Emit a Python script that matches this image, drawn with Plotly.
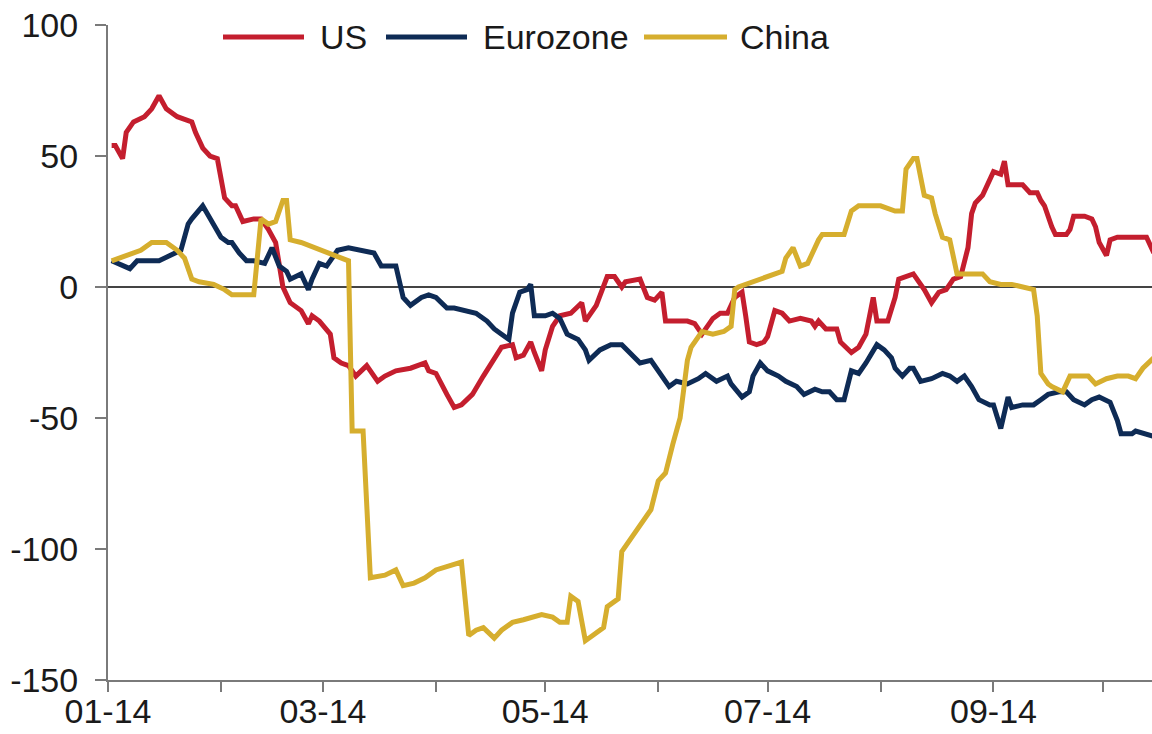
import pandas as pd
import plotly.graph_objects as go

# ---- data (day offset from 2014-01-01, index value) ----
us_day = [1,2,4,5,7,10,12,14,16,19,23,24,26,28,30,32,34,35,37,40,42,44,46,48,50,53,55,56,58,61,
          62,64,66,68,71,74,76,79,83,87,88,90,93,95,97,100,103,106,108,111,112,114,116,117,119,120,
          122,124,127,130,131,134,137,139,141,142,146,148,150,152,153,156,159,161,163,164,166,168,170,
          172,174,175,176,178,180,181,183,185,187,190,193,194,195,197,200,201,203,204,206,208,210,211,
          214,216,217,221,222,224,226,228,230,232,234,236,237,238,240,242,243,245,246,247,251,253,255,
          256,257,259,260,263,264,265,268,270,271,272,274,275,277,280,282,285,287]
us_val = [54,54,49,59,63,65,68,73,68,65,63,59,53,50,49,34,31,31,25,26,26,22,17,0,-6,-9,-14,-11,-13,-18,
          -27,-29,-30,-34,-30,-36,-34,-32,-31,-29,-32,-33,-41,-46,-45,-41,-34,-27,-23,-22,-27,-26,-21,-25,-32,-24,
          -15,-11,-10,-6,-13,-7,4,4,0,2,3,-4,-5,-2,-13,-13,-13,-14,-18,-16,-12,-10,-10,
          -4,-2,-11,-21,-22,-21,-19,-9,-10,-13,-12,-13,-15,-13,-16,-16,-21,-24,-25,-23,-18,-4,-13,
          -13,-4,3,5,3,-1,-6,-2,-1,3,4,15,28,32,35,41,44,43,48,39,39,36,36,
          33,31,23,20,20,22,27,27,26,23,17,12,18,19,19,19,19,13]

ez_day = [1,3,6,8,11,14,17,20,22,23,26,28,31,33,34,36,38,40,43,45,47,49,50,53,55,56,58,60,61,63,
          66,69,73,75,79,81,83,86,88,90,93,95,98,101,104,106,108,110,111,113,115,116,117,120,122,124,
          126,129,131,132,135,138,141,143,146,149,152,154,156,159,162,164,167,170,171,174,176,177,179,
          181,184,186,189,191,194,196,198,200,202,204,206,208,211,213,215,216,218,220,221,223,226,229,
          231,233,235,237,239,242,243,245,247,248,251,254,256,258,261,263,265,268,270,272,275,277,278,
          281,282,284,287]
ez_val = [10,9,7,10,10,10,12,14,24,26,31,26,19,17,17,13,10,10,9,15,8,6,3,5,-1,3,9,8,10,14,
          15,14,13,8,8,-4,-7,-4,-3,-4,-8,-8,-9,-10,-13,-16,-18,-20,-10,-2,-1,1,-11,-11,-10,-12,
          -18,-20,-24,-28,-24,-22,-22,-25,-29,-28,-34,-38,-36,-37,-35,-33,-36,-34,-37,-42,-40,-34,-29,
          -32,-34,-36,-38,-41,-39,-40,-40,-43,-43,-32,-33,-29,-22,-24,-27,-31,-34,-31,-31,-36,-35,-33,
          -34,-36,-34,-38,-43,-45,-45,-54,-42,-46,-45,-45,-43,-41,-40,-40,-43,-45,-43,-42,-44,-51,-56,
          -56,-55,-56,-57]

cn_day = [1,5,9,12,16,19,21,23,25,29,32,34,38,40,42,44,46,48,49,50,53,57,62,65,66,67,70,72,76,79,
          81,84,87,90,94,97,99,101,103,106,108,111,114,117,119,122,124,126,127,129,131,133,136,137,140,
          141,145,149,151,153,155,157,158,159,160,162,163,166,169,171,172,173,175,178,180,182,185,186,
          188,190,192,195,196,202,204,206,212,216,218,219,221,222,224,226,227,229,231,233,234,240,242,
          245,248,251,254,255,256,258,259,262,264,269,271,274,277,280,282,284,287]
cn_val = [10,12,14,17,17,14,11,3,2,1,-1,-3,-3,-3,26,24,25,33,33,18,17,15,12,11,10,-55,-55,-111,-110,-108,
          -114,-113,-111,-108,-106,-105,-133,-131,-130,-134,-131,-128,-127,-126,-125,-126,-128,-128,-118,-120,
          -135,-133,-130,-122,-119,-101,-93,-85,-74,-71,-60,-50,-39,-28,-23,-19,-17,-18,-17,-15,-1,0,1,2,3,4,
          6,11,15,8,9,18,20,20,29,31,31,29,29,45,49,49,35,34,28,19,18,5,5,5,2,1,1,0,-1,-11,-33,-37,-38,-40,
          -34,-34,-37,-35,-34,-34,-35,-31,-27]

series_names = ["US", "Eurozone", "China"]
series_colors = ["#C41E2E", "#0E2B55", "#D6AE2E"]

y_tickvals = [-150, -100, -50, 0, 50, 100]
y_ticktext = ["-150", "-100", "-50", "0", "50", "100"]

start = pd.Timestamp("2014-01-01")
end = start + pd.Timedelta(days=286.5)
def to_dates(days):
    return start + pd.to_timedelta(days, unit="D")

fig = go.Figure()
for name, color, d, v in zip(series_names, series_colors,
                             [us_day, ez_day, cn_day], [us_val, ez_val, cn_val]):
    fig.add_trace(go.Scatter(x=to_dates(d), y=v, mode="lines", name=name,
                             line=dict(color=color, width=5), showlegend=False))
# empty helper trace so the monthly tick-mark axis is drawn
fig.add_trace(go.Scatter(x=[], y=[], xaxis="x2", showlegend=False, hoverinfo="skip"))

W, H = 1152, 734
L, R, T, B = 108, 0, 25, 54
font = "Arial, Liberation Sans, sans-serif"
fs = 34
axis_grey = "#7a7a7a"

fig.update_layout(
    width=W, height=H,
    margin=dict(l=L, r=R, t=T, b=B, pad=0, autoexpand=False),
    paper_bgcolor="white", plot_bgcolor="white",
    font=dict(family=font, size=fs, color="#1a1a1a"),
    xaxis=dict(
        type="date", automargin=False, range=[start, end],
        tick0="2014-01-01", dtick="M2", tickformat="%m-%y",
        ticks="", showline=True, linecolor=axis_grey, linewidth=2,
        showgrid=False, zeroline=False, tickfont=dict(size=fs),
    ),
    xaxis2=dict(
        type="date", automargin=False, range=[start, end], matches="x",
        overlaying="x", anchor="y", side="bottom",
        tick0="2014-01-01", dtick="M1",
        ticks="outside", ticklen=11, tickcolor=axis_grey, tickwidth=1.5,
        showticklabels=False, showline=False, showgrid=False, zeroline=False,
    ),
    yaxis=dict(
        automargin=False,
        range=[-150, 100], tickmode="array", tickvals=y_tickvals, ticktext=y_ticktext,
        ticks="outside", ticklen=11, tickcolor=axis_grey, tickwidth=1.5,
        showline=True, linecolor=axis_grey, linewidth=2,
        showgrid=False,
        zeroline=True, zerolinecolor="#444444", zerolinewidth=1.5,
        ticklabelstandoff=10, tickfont=dict(size=fs),
    ),
)

# custom legend (long line samples as in the original)
pw = W - L - R
ph = H - T - B
def px_x(p):
    return (p - L) / pw
def px_y(p):
    return (H - B - p) / ph

legend_items = [("US", 223, 304, 318), ("Eurozone", 386, 467, 481), ("China", 644, 727, 738)]
for (name, x0, x1, xt), color in zip(legend_items, series_colors):
    fig.add_shape(type="line", xref="paper", yref="paper",
                  x0=px_x(x0), x1=px_x(x1), y0=px_y(37), y1=px_y(37),
                  line=dict(color=color, width=5))
    fig.add_annotation(xref="paper", yref="paper", x=px_x(xt), y=px_y(37),
                       text=name, showarrow=False, xanchor="left", yanchor="middle",
                       font=dict(size=fs, color="#1a1a1a", family=font))

fig.write_html("out.html", config={"displayModeBar": False},
               post_script="document.body.style.margin='0';document.body.style.padding='0';"
                           "document.body.style.overflow='hidden';")
